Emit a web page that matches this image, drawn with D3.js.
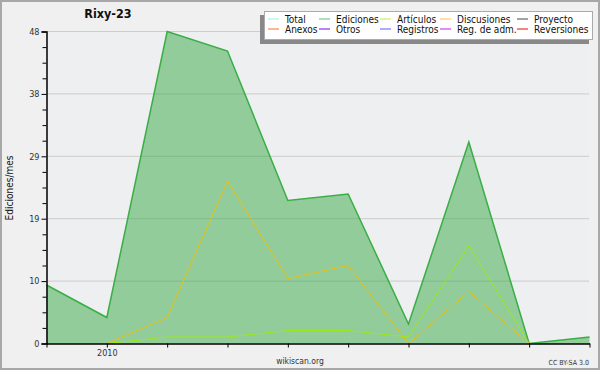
<!DOCTYPE html>
<html>
<head>
<meta charset="utf-8">
<script src="https://cdn.jsdelivr.net/npm/d3@7"></script>
<style>
  body { margin: 0; background: #ffffff; }
  svg text { font-family: "DejaVu Sans Condensed", "DejaVu Sans", sans-serif; }
</style>
</head>
<body>
<svg id="chart" width="600" height="370"></svg>
<script>
// monthly data, Dec 2009 -> Sep 2010
const months = ["2009-12", "2010-01", "2010-02", "2010-03", "2010-04", "2010-05", "2010-06", "2010-07", "2010-08", "2010-09"];
const monthLabels = ["", "2010", "", "", "", "", "", "", "", ""];
const ediciones = [9, 4, 48, 45, 22, 23, 3, 31, 0, 1];
const articulos = [0, 0, 1, 1, 2, 2, 1, 15, 0, 0];
const discusiones = [0, 0, 4, 25, 10, 12, 0, 8, 0, 0];

const yTicks = [0, 9.6, 19.2, 28.8, 38.4, 48];
const yTickLabels = ["0", "10", "19", "29", "38", "48"];

const legendNames = ["Total", "Ediciones", "Artículos", "Discusiones", "Proyecto",
  "Anexos", "Otros", "Registros", "Reg. de adm.", "Reversiones"];
const legendColors = ["#aaeeee", "#77cc88", "#ccee66", "#ffcc66", "#666666",
  "#ff8844", "#8833ee", "#7777ff", "#cc44ee", "#ee3333"];

const svg = d3.select("#chart");

// background + frame
svg.append("rect")
  .attr("x", 1).attr("y", 1)
  .attr("width", 598).attr("height", 368)
  .attr("fill", "#f0f0f0")
  .attr("stroke", "#a8a8a8")
  .attr("stroke-width", 2);

svg.append("rect")
  .attr("x", 47).attr("y", 31)
  .attr("width", 542).attr("height", 312)
  .attr("fill", "#eeeff1");

// scales
const x = d3.scalePoint()
  .domain(months)
  .range([46.5, 589.5]);

const y = d3.scaleLinear()
  .domain([0, 48])
  .range([343.5, 31.5]);

// gridlines
svg.append("g")
  .selectAll("line")
  .data(yTicks.slice(1))
  .join("line")
  .attr("x1", 47).attr("x2", 589)
  .attr("y1", d => y(d)).attr("y2", d => y(d))
  .attr("stroke", "#cccccc")
  .attr("stroke-width", 1);

// ediciones area
const area = d3.area()
  .x((d, i) => x(months[i]))
  .y0(y(0))
  .y1(d => y(d));

svg.append("path")
  .datum(ediciones)
  .attr("d", area)
  .attr("fill", "#33aa44")
  .attr("fill-opacity", 0.5);

const line = d3.line()
  .x((d, i) => x(months[i]))
  .y(d => y(d));

svg.append("path")
  .datum(ediciones)
  .attr("d", line)
  .attr("fill", "none")
  .attr("stroke", "#3aae45")
  .attr("stroke-width", 1.5);

svg.append("path")
  .datum(articulos)
  .attr("d", line)
  .attr("fill", "none")
  .attr("stroke", "#9ee81a")
  .attr("stroke-width", 1);

svg.append("path")
  .datum(discusiones)
  .attr("d", line)
  .attr("fill", "none")
  .attr("stroke", "#ecc010")
  .attr("stroke-width", 1);

// y axis
svg.append("g")
  .attr("transform", "translate(46.5,0)")
  .call(d3.axisLeft(y)
    .tickValues(yTicks)
    .tickFormat((d, i) => yTickLabels[i])
    .tickSize(5)
    .tickPadding(2));

// minor ticks
svg.append("g")
  .attr("transform", "translate(46.5,0)")
  .call(d3.axisLeft(y)
    .tickValues(d3.range(0, 48.01, 2.4).filter((d, i) => i % 4 !== 0))
    .tickFormat("")
    .tickSize(4))
  .select(".domain").remove();

// x axis
svg.append("g")
  .attr("transform", "translate(0,343.5)")
  .call(d3.axisBottom(x)
    .tickFormat((d, i) => monthLabels[i])
    .tickSize(4)
    .tickSizeOuter(0)
    .tickPadding(2));

svg.selectAll(".domain").attr("stroke", "#000").attr("stroke-width", 1.5);
svg.selectAll(".tick line").attr("stroke", "#000");
svg.selectAll(".tick text")
  .attr("fill", "#333")
  .style("font-size", "9px");

// titles
svg.append("text")
  .attr("x", 108).attr("y", 18)
  .attr("text-anchor", "middle")
  .style("font-size", "12.5px")
  .style("font-weight", "bold")
  .attr("fill", "#111")
  .text("Rixy-23");

svg.append("text")
  .attr("transform", "translate(13,188) rotate(-90)")
  .attr("text-anchor", "middle")
  .style("font-size", "10px")
  .attr("fill", "#111")
  .text("Ediciones/mes");

svg.append("text")
  .attr("x", 300).attr("y", 364)
  .attr("text-anchor", "middle")
  .style("font-size", "8.5px")
  .attr("fill", "#333")
  .text("wikiscan.org");

svg.append("text")
  .attr("x", 589).attr("y", 365)
  .attr("text-anchor", "end")
  .style("font-size", "7px")
  .attr("fill", "#333")
  .text("CC BY-SA 3.0");

// legend
const legend = svg.append("g");

legend.append("rect")
  .attr("x", 260).attr("y", 15)
  .attr("width", 329).attr("height", 29)
  .attr("fill", "#888888");

legend.append("rect")
  .attr("x", 264.5).attr("y", 11.5)
  .attr("width", 328).attr("height", 28)
  .attr("fill", "#ffffff")
  .attr("stroke", "#aaaaaa")
  .attr("stroke-width", 1);

const colX = [268, 319, 380, 440, 517];
const rowY = [19, 29];

const items = legend.selectAll("g.item")
  .data(legendNames)
  .join("g")
  .attr("class", "item")
  .attr("transform", (d, i) => `translate(${colX[i % 5]},${rowY[Math.floor(i / 5)]})`);

items.append("line")
  .attr("x1", 0).attr("x2", 11)
  .attr("y1", 0).attr("y2", 0)
  .attr("stroke", (d, i) => legendColors[i])
  .attr("stroke-width", 1.2);

items.append("text")
  .attr("x", 17).attr("y", 3.5)
  .style("font-size", "10px")
  .attr("fill", "#111")
  .text(d => d);
</script>
</body>
</html>
